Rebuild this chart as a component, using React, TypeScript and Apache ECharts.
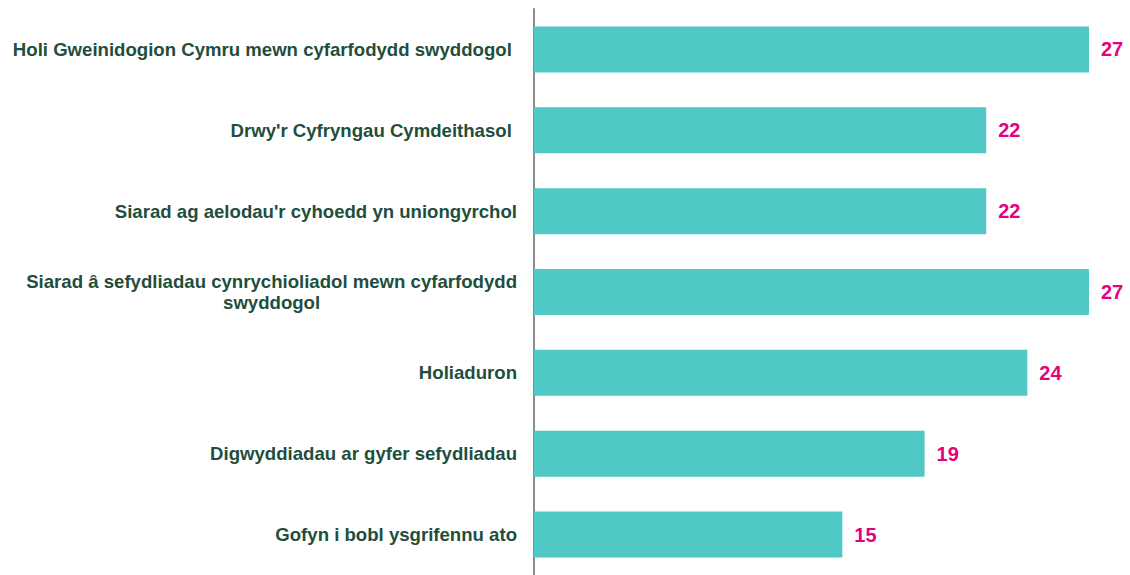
import React, { useEffect, useRef } from "react";
import * as echarts from "echarts";

const categories = [
  "Holi Gweinidogion Cymru mewn cyfarfodydd swyddogol ",
  "Drwy'r Cyfryngau Cymdeithasol ",
  "Siarad ag aelodau'r cyhoedd yn uniongyrchol",
  "Siarad â sefydliadau cynrychioliadol mewn cyfarfodydd\nswyddogol",
  "Holiaduron",
  "Digwyddiadau ar gyfer sefydliadau",
  "Gofyn i bobl ysgrifennu ato",
];
const values = [27, 22, 22, 27, 24, 19, 15];

const FONT = "'Liberation Sans', Arial, sans-serif";

export default function App() {
  const ref = useRef<HTMLDivElement>(null);
  useEffect(() => {
    const chart = echarts.init(ref.current!, null, { renderer: "svg" });
    chart.setOption({
      animation: false,
      grid: { left: 534, right: 41, top: 9, height: 574, containLabel: false },
      xAxis: {
        type: "value",
        min: 0,
        max: 27,
        show: false,
      },
      yAxis: {
        type: "category",
        inverse: true,
        data: categories,
        axisLine: { show: true, lineStyle: { color: "#8c8c8c", width: 2 } },
        axisTick: { show: false },
        axisLabel: {
          margin: 17,
          color: "#1f4e3d",
          fontFamily: FONT,
          fontWeight: "bold",
          fontSize: 18.6,
          lineHeight: 21,
          formatter: (v: string) => (v.indexOf("\n") >= 0 ? "{c|" + v.split("\n").join("}\n{c|") + "}" : v),
          rich: {
            c: {
              align: "center",
              color: "#1f4e3d",
              fontFamily: FONT,
              fontWeight: "bold",
              fontSize: 18.6,
              lineHeight: 21,
            },
          },
        },
      },
      series: [
        {
          type: "bar",
          data: values,
          barWidth: 46,
          itemStyle: { color: "#50c8c6" },
          label: {
            show: true,
            position: "right",
            distance: 12,
            color: "#e6007e",
            fontFamily: FONT,
            fontWeight: "bold",
            fontSize: 20,
          },
        },
      ],
    });
    return () => chart.dispose();
  }, []);
  return (
    <div
      ref={ref}
      style={{ position: "fixed", left: 0, top: 0, width: 1130, height: 575, background: "#fff" }}
    />
  );
}
